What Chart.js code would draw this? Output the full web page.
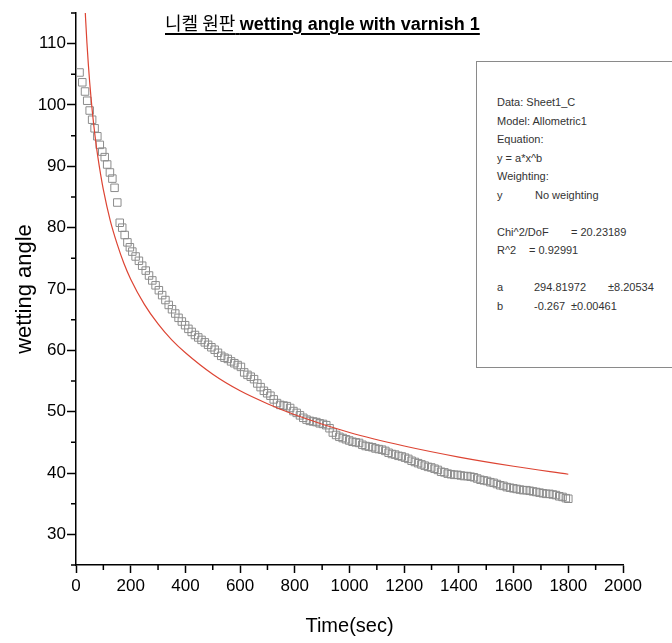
<!DOCTYPE html>
<html>
<head>
<meta charset="utf-8">
<script src="https://cdn.jsdelivr.net/npm/chart.js@4.4.0/dist/chart.umd.min.js"></script>
<style>
html,body{margin:0;padding:0;background:#fff;}
#wrap{position:relative;width:672px;height:643px;overflow:hidden;}
#title{position:absolute;left:165px;top:13px;white-space:nowrap;font-size:18px;line-height:18px;color:#000;
  text-decoration:underline;text-decoration-thickness:2px;text-underline-offset:3px;}
#title .ko{font-family:"Noto Sans CJK KR","Liberation Sans",sans-serif;font-weight:normal;}
#title .en{font-family:"Liberation Sans",Arial,sans-serif;font-weight:bold;}
#stats{position:absolute;left:476px;top:61px;width:220px;height:305px;border:1px solid #8a8a8a;background:#fff;
  font-family:"Liberation Sans",Arial,sans-serif;font-size:11px;color:#333;}
#stats div{position:absolute;white-space:nowrap;line-height:14px;}
</style>
</head>
<body>
<div id="wrap">
<canvas id="c" width="672" height="643"></canvas>
<div id="title"><span class="ko">니켈 원판</span> <span class="en">wetting angle with varnish 1</span></div>
<div id="stats"></div>
</div>
<script>
// measured points (Time in sec, wetting angle in degrees)
const timeSec = [13,23,33,41,50,59,68,78,87,96,105,114,124,133,141,151,160,169,178,188,197,206,218,230,242,255,267,279,291,303,315,327,339,351,363,375,387,399,411,423,435,447,459,471,483,495,507,519,531,543,555,567,579,591,603,615,627,639,651,663,675,687,699,711,723,735,747,759,771,783,795,807,819,831,843,855,867,879,891,903,915,927,939,951,963,975,987,999,1011,1023,1035,1047,1059,1071,1083,1095,1107,1119,1131,1143,1155,1167,1179,1191,1203,1215,1227,1239,1251,1263,1275,1287,1299,1311,1323,1335,1347,1359,1371,1383,1395,1407,1419,1431,1443,1455,1467,1479,1491,1503,1515,1527,1539,1551,1563,1575,1587,1599,1611,1623,1635,1647,1659,1671,1683,1695,1707,1719,1731,1743,1755,1767,1779,1791,1800];
const angleDeg = [105.3,103.7,102.2,100.7,99.1,97.6,96.2,94.9,93.5,92.4,91.5,90.3,89.0,88.0,86.5,84.1,80.8,80.0,78.8,77.6,76.8,76.1,75.3,74.6,73.8,73.0,72.2,71.4,70.6,69.8,69.0,68.2,67.4,66.7,66.0,65.3,64.7,64.1,63.5,63.0,62.5,62.1,61.7,61.3,60.9,60.5,60.1,59.6,59.1,58.8,58.6,58.2,57.9,57.6,57.3,56.4,56.0,55.7,55.3,54.6,54.0,53.4,53.0,52.6,52.0,51.4,51.1,51.0,50.9,50.6,50.1,49.8,49.4,49.0,48.7,48.5,48.4,48.3,48.1,48.0,47.8,47.3,46.6,46.2,45.9,45.7,45.5,45.3,45.1,45.0,44.9,44.6,44.4,44.3,44.2,44.0,43.9,43.8,43.6,43.3,43.1,43.0,42.8,42.7,42.5,42.3,42.0,41.8,41.6,41.4,41.2,41.0,40.9,40.7,40.5,40.2,40.1,39.9,39.8,39.7,39.7,39.6,39.5,39.5,39.4,39.3,39.1,38.9,38.8,38.7,38.5,38.4,38.2,38.0,37.9,37.7,37.6,37.5,37.4,37.3,37.2,37.2,37.1,37.0,36.9,36.8,36.7,36.6,36.6,36.5,36.4,36.2,36.1,35.9,35.8];
// fitted curve
const fitTime  = [30,35,40,45,50,60,70,80,90,100,125,150,175,200,250,300,350,400,500,600,700,800,1000,1200,1400,1600,1800];
const fitAngle = [118.9,114.1,110.1,106.7,103.7,98.8,94.8,91.5,88.7,86.2,81.2,77.4,74.2,71.6,67.5,64.3,61.7,59.6,56.1,53.4,51.3,49.5,46.6,44.4,42.6,41.1,39.8];
// axis ticks
const xMajorTicks = [0,200,400,600,800,1000,1200,1400,1600,1800,2000];
const xMinorTicks = [100,300,500,700,900,1100,1300,1500,1700,1900];
const yMajorTicks = [30,40,50,60,70,80,90,100,110];
const yMinorTicks = [25,35,45,55,65,75,85,95,105,115];
// fit report lines
const statsLines = [
  ["Data: Sheet1_C"],["Model: Allometric1"],["Equation:"],["y = a*x^b"],["Weighting:"],["y","No weighting"],
  null,["Chi^2/DoF","= 20.23189"],["R^2","= 0.92991"],null,["a","294.81972","±8.20534"],["b","-0.267","±0.00461"]
];

const stats = document.getElementById('stats');
const colX = {1:{'No weighting':58,'= 20.23189':94,'= 0.92991':52,'294.81972':57,'-0.267':57}, 2:{'±8.20534':131,'±0.00461':94}};
let row = 0;
statsLines.forEach(l => {
  if (l) {
    l.forEach((t, i) => {
      const d = document.createElement('div');
      d.textContent = t;
      d.style.left = (i === 0 ? 20 : colX[i][t]) + 'px';
      d.style.top = (33 + row * 18.5) + 'px';
      stats.appendChild(d);
    });
  }
  row++;
});

const minorTickPlugin = {
  id: 'minorTicks',
  afterDraw(chart) {
    const {ctx, scales: {x, y}} = chart;
    ctx.save();
    ctx.strokeStyle = '#000';
    ctx.lineWidth = 1.5;
    ctx.beginPath();
    xMinorTicks.forEach(v => { const px = x.getPixelForValue(v); ctx.moveTo(px, x.top); ctx.lineTo(px, x.top + 5); });
    yMinorTicks.forEach(v => { const py = y.getPixelForValue(v); ctx.moveTo(y.right - 5, py); ctx.lineTo(y.right, py); });
    ctx.stroke();
    ctx.restore();
  }
};

const tickFont = {family: '"Liberation Sans Narrow","Liberation Sans",Arial,sans-serif', size: 17};

new Chart(document.getElementById('c'), {
  data: {
    datasets: [
      {
        type: 'line',
        data: fitTime.map((t, i) => ({x: t, y: fitAngle[i]})),
        borderColor: '#dd4433',
        borderWidth: 1.2,
        pointRadius: 0,
        cubicInterpolationMode: 'monotone',
        fill: false,
        order: 0
      },
      {
        type: 'scatter',
        data: timeSec.map((t, i) => ({x: t, y: angleDeg[i]})),
        pointStyle: 'rect',
        pointRadius: 5.3,
        borderColor: '#8c8c8c',
        backgroundColor: 'rgba(255,255,255,0)',
        borderWidth: 1,
        order: 1
      }
    ]
  },
  options: {
    responsive: false,
    animation: false,
    devicePixelRatio: 1,
    layout: {padding: {left: 0, right: 49, top: 13, bottom: 0}, autoPadding: false},
    plugins: {legend: {display: false}, tooltip: {enabled: false}},
    scales: {
      x: {
        type: 'linear', min: 0, max: 2000,
        afterBuildTicks: s => { s.ticks = xMajorTicks.map(v => ({value: v})); },
        afterFit: s => { s.height = 78; },
        ticks: {font: tickFont, color: '#000', padding: 3, maxRotation: 0, autoSkip: false,
          callback: v => String(v)},
        grid: {drawOnChartArea: false, drawTicks: true, tickLength: 8, tickColor: '#000', tickWidth: 1.5},
        border: {color: '#000', width: 1.5},
        title: {display: true, text: 'Time(sec)', color: '#000',
          font: {family: '"Liberation Sans",Arial,sans-serif', size: 20}, padding: {top: 0, bottom: 5}}
      },
      y: {
        type: 'linear', min: 25, max: 115,
        afterBuildTicks: s => { s.ticks = yMajorTicks.map(v => ({value: v})); },
        afterFit: s => { s.width = 76; },
        ticks: {font: tickFont, color: '#000', padding: 1, autoSkip: false,
          callback: v => String(v)},
        grid: {drawOnChartArea: false, drawTicks: true, tickLength: 9, tickColor: '#000', tickWidth: 1.5},
        border: {color: '#000', width: 1.5},
        title: {display: true, text: 'wetting angle', color: '#000',
          font: {family: '"Liberation Sans",Arial,sans-serif', size: 22}, padding: {top: 12, bottom: 0}}
      }
    }
  },
  plugins: [minorTickPlugin]
});
</script>
</body>
</html>
